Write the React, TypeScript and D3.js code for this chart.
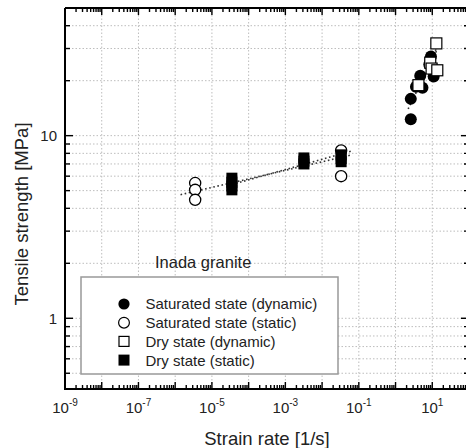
import React from "react";
import * as d3 from "d3";

// Saturated state (dynamic): strain rate [1/s], tensile strength [MPa]
const satDynRate = [2.6, 2.6, 3.6, 5.4, 4.7, 8.3, 9.2, 10.9];
const satDynStrength = [12.3, 15.9, 18.5, 18.3, 21.3, 24.5, 27.1, 21.1];

// Saturated state (static)
const satStaRate = [3.5e-6, 3.5e-6, 3.5e-6, 0.033, 0.033];
const satStaStrength = [5.5, 5.05, 4.45, 6.0, 8.3];

// Dry state (dynamic)
const dryDynRate = [4.2, 8.8, 9.6, 13.7, 12.9];
const dryDynStrength = [18.9, 25.1, 23.3, 22.8, 32.0];

// Dry state (static)
const dryStaRate = [3.5e-5, 3.5e-5, 3.5e-5, 3.5e-5, 3.2e-3, 3.2e-3, 3.2e-3, 0.033, 0.033, 0.033];
const dryStaStrength = [5.85, 5.55, 5.3, 5.05, 7.55, 7.25, 7.0, 7.85, 7.5, 7.2];

// Regression lines: [rate, strength] end points
const fitSatStatic: [number, number][] = [[1.4e-6, 4.75], [0.065, 7.85]];
const fitDryStatic: [number, number][] = [[3.5e-5, 5.4], [0.065, 8.25]];
const fitSatDynamic: [number, number][] = [[2.2, 14.0], [13, 29]];
const fitDryDynamic: [number, number][] = [[4.0, 18.0], [13, 30]];

const xLabelExps = [-9, -7, -5, -3, -1, 1];
const yLabelValues = [1, 10];

const legendLabels = [
  "Saturated state (dynamic)",
  "Saturated state (static)",
  "Dry state (dynamic)",
  "Dry state (static)",
];

const W = 466;
const H = 448;
const L = 65;
const R = 469;
const T = 8;
const B = 389;

const FONT = "'Liberation Sans', Arial, sans-serif";

export default function App() {
  const x = d3.scaleLog().domain([1e-9, 1e2]).range([L, R]);
  const y = d3.scaleLog().domain([0.41, 50]).range([B, T]);

  const xDecades = d3.range(-9, 3).map((e) => Math.pow(10, e));
  const xMinor: number[] = [];
  for (let e = -9; e < 2; e++) {
    for (let m = 2; m <= 9; m++) xMinor.push(m * Math.pow(10, e));
  }
  const yMinor: number[] = [];
  for (let e = -1; e <= 1; e++) {
    for (let m = 1; m <= 9; m++) {
      const v = m * Math.pow(10, e);
      if (v >= 0.41 && v <= 50) yMinor.push(v);
    }
  }
  const yMajor = [1, 10];

  const line = d3
    .line<[number, number]>()
    .x((d) => x(d[0]))
    .y((d) => y(d[1]));

  const sq = 11;
  const r = 5.6;

  const fitStyle = {
    fill: "none",
    stroke: "#333",
    strokeWidth: 1.6,
    strokeDasharray: "1.6,2.6",
  };

  return (
    <svg
      width={W}
      height={H}
      style={{ position: "absolute", left: 0, top: 0, background: "#fff" }}
      fontFamily={FONT}
    >
      <rect x={0} y={0} width={W} height={H} fill="#fff" />
      {/* grid */}
      <g stroke="#bdbdbd" strokeWidth={1} strokeDasharray="1.5,2">
        {xDecades.slice(1).map((v) => (
          <line key={"gx" + v} x1={x(v)} x2={x(v)} y1={T} y2={B} />
        ))}
        {yMinor.map((v) => (
          <line key={"gy" + v} x1={L} x2={R} y1={y(v)} y2={y(v)} />
        ))}
      </g>

      {/* fit lines */}
      <path d={line(fitSatStatic) || ""} {...fitStyle} />
      <path d={line(fitDryStatic) || ""} {...fitStyle} />
      <path d={line(fitSatDynamic) || ""} {...fitStyle} />
      <path d={line(fitDryDynamic) || ""} {...fitStyle} />

      {/* data */}
      {satStaRate.map((v, i) => (
        <circle key={"ss" + i} cx={x(v)} cy={y(satStaStrength[i])} r={r} fill="#fff" stroke="#000" strokeWidth={1.3} />
      ))}
      {dryStaRate.map((v, i) => (
        <rect key={"ds" + i} x={x(v) - sq / 2} y={y(dryStaStrength[i]) - sq / 2} width={sq} height={sq} fill="#000" />
      ))}
      {satDynRate.map((v, i) => (
        <circle key={"sd" + i} cx={x(v)} cy={y(satDynStrength[i])} r={6} fill="#000" />
      ))}
      {dryDynRate.map((v, i) => (
        <rect key={"dd" + i} x={x(v) - sq / 2} y={y(dryDynStrength[i]) - sq / 2} width={sq} height={sq} fill="#fff" stroke="#000" strokeWidth={1.2} />
      ))}

      {/* axes frame */}
      <g stroke="#000" fill="none">
        <line x1={L} x2={R} y1={B} y2={B} strokeWidth={2} />
        <line x1={L} x2={L} y1={T} y2={B + 1} strokeWidth={2} />
        <line x1={L} x2={R} y1={T} y2={T} strokeWidth={2} />
        <line x1={R} x2={R} y1={T} y2={B} strokeWidth={2} />
      </g>

      {/* ticks */}
      <g stroke="#000" strokeWidth={1.4}>
        {xDecades.map((v) => (
          <g key={"xt" + v}>
            <line x1={x(v)} x2={x(v)} y1={B} y2={B - 7} />
            <line x1={x(v)} x2={x(v)} y1={T} y2={T + 7} />
          </g>
        ))}
        {xMinor.map((v) => (
          <g key={"xm" + v}>
            <line x1={x(v)} x2={x(v)} y1={B} y2={B - 4} />
            <line x1={x(v)} x2={x(v)} y1={T} y2={T + 4} />
          </g>
        ))}
        {yMinor.map((v) => {
          const len = yMajor.includes(v) ? 8 : 5;
          return (
            <g key={"yt" + v}>
              <line x1={L} x2={L + len} y1={y(v)} y2={y(v)} />
              <line x1={R} x2={R - len} y1={y(v)} y2={y(v)} />
            </g>
          );
        })}
      </g>

      {/* x tick labels */}
      <g fontSize={15} fill="#222">
        {xLabelExps.map((e) => (
          <text key={"xl" + e} x={x(Math.pow(10, e))} y={413} textAnchor="middle">
            10
            <tspan fontSize={10} dy={-7}>
              {e}
            </tspan>
          </text>
        ))}
        {yLabelValues.map((v) => (
          <text key={"yl" + v} x={57} y={y(v)} dy="0.35em" textAnchor="end">
            {v}
          </text>
        ))}
      </g>

      {/* axis titles */}
      <text x={267} y={445} textAnchor="middle" fontSize={18.5} fill="#222">
        Strain rate [1/s]
      </text>
      <text
        transform={`translate(28,${214}) rotate(-90)`}
        textAnchor="middle"
        fontSize={18.5}
        fill="#222"
      >
        Tensile strength [MPa]
      </text>

      {/* annotation */}
      <text x={155} y={268} fontSize={16.5} fill="#222">
        Inada granite
      </text>

      {/* legend */}
      <rect x={81} y={277} width={257} height={97} fill="#fff" stroke="#999" strokeWidth={1.5} />
      {legendLabels.map((lab, i) => {
        const cy = 304 + i * 18.7;
        const cx = 124;
        let sym;
        if (i === 0) sym = <circle cx={cx} cy={cy} r={5.6} fill="#000" />;
        else if (i === 1) sym = <circle cx={cx} cy={cy} r={5.4} fill="#fff" stroke="#000" strokeWidth={1.2} />;
        else if (i === 2)
          sym = <rect x={cx - 5} y={cy - 5} width={10} height={10} fill="#fff" stroke="#000" strokeWidth={1.2} />;
        else sym = <rect x={cx - 5.5} y={cy - 5.5} width={11} height={11} fill="#000" />;
        return (
          <g key={lab}>
            {sym}
            <text x={145.5} y={cy} dy="0.36em" fontSize={15} fill="#222">
              {lab}
            </text>
          </g>
        );
      })}
    </svg>
  );
}
